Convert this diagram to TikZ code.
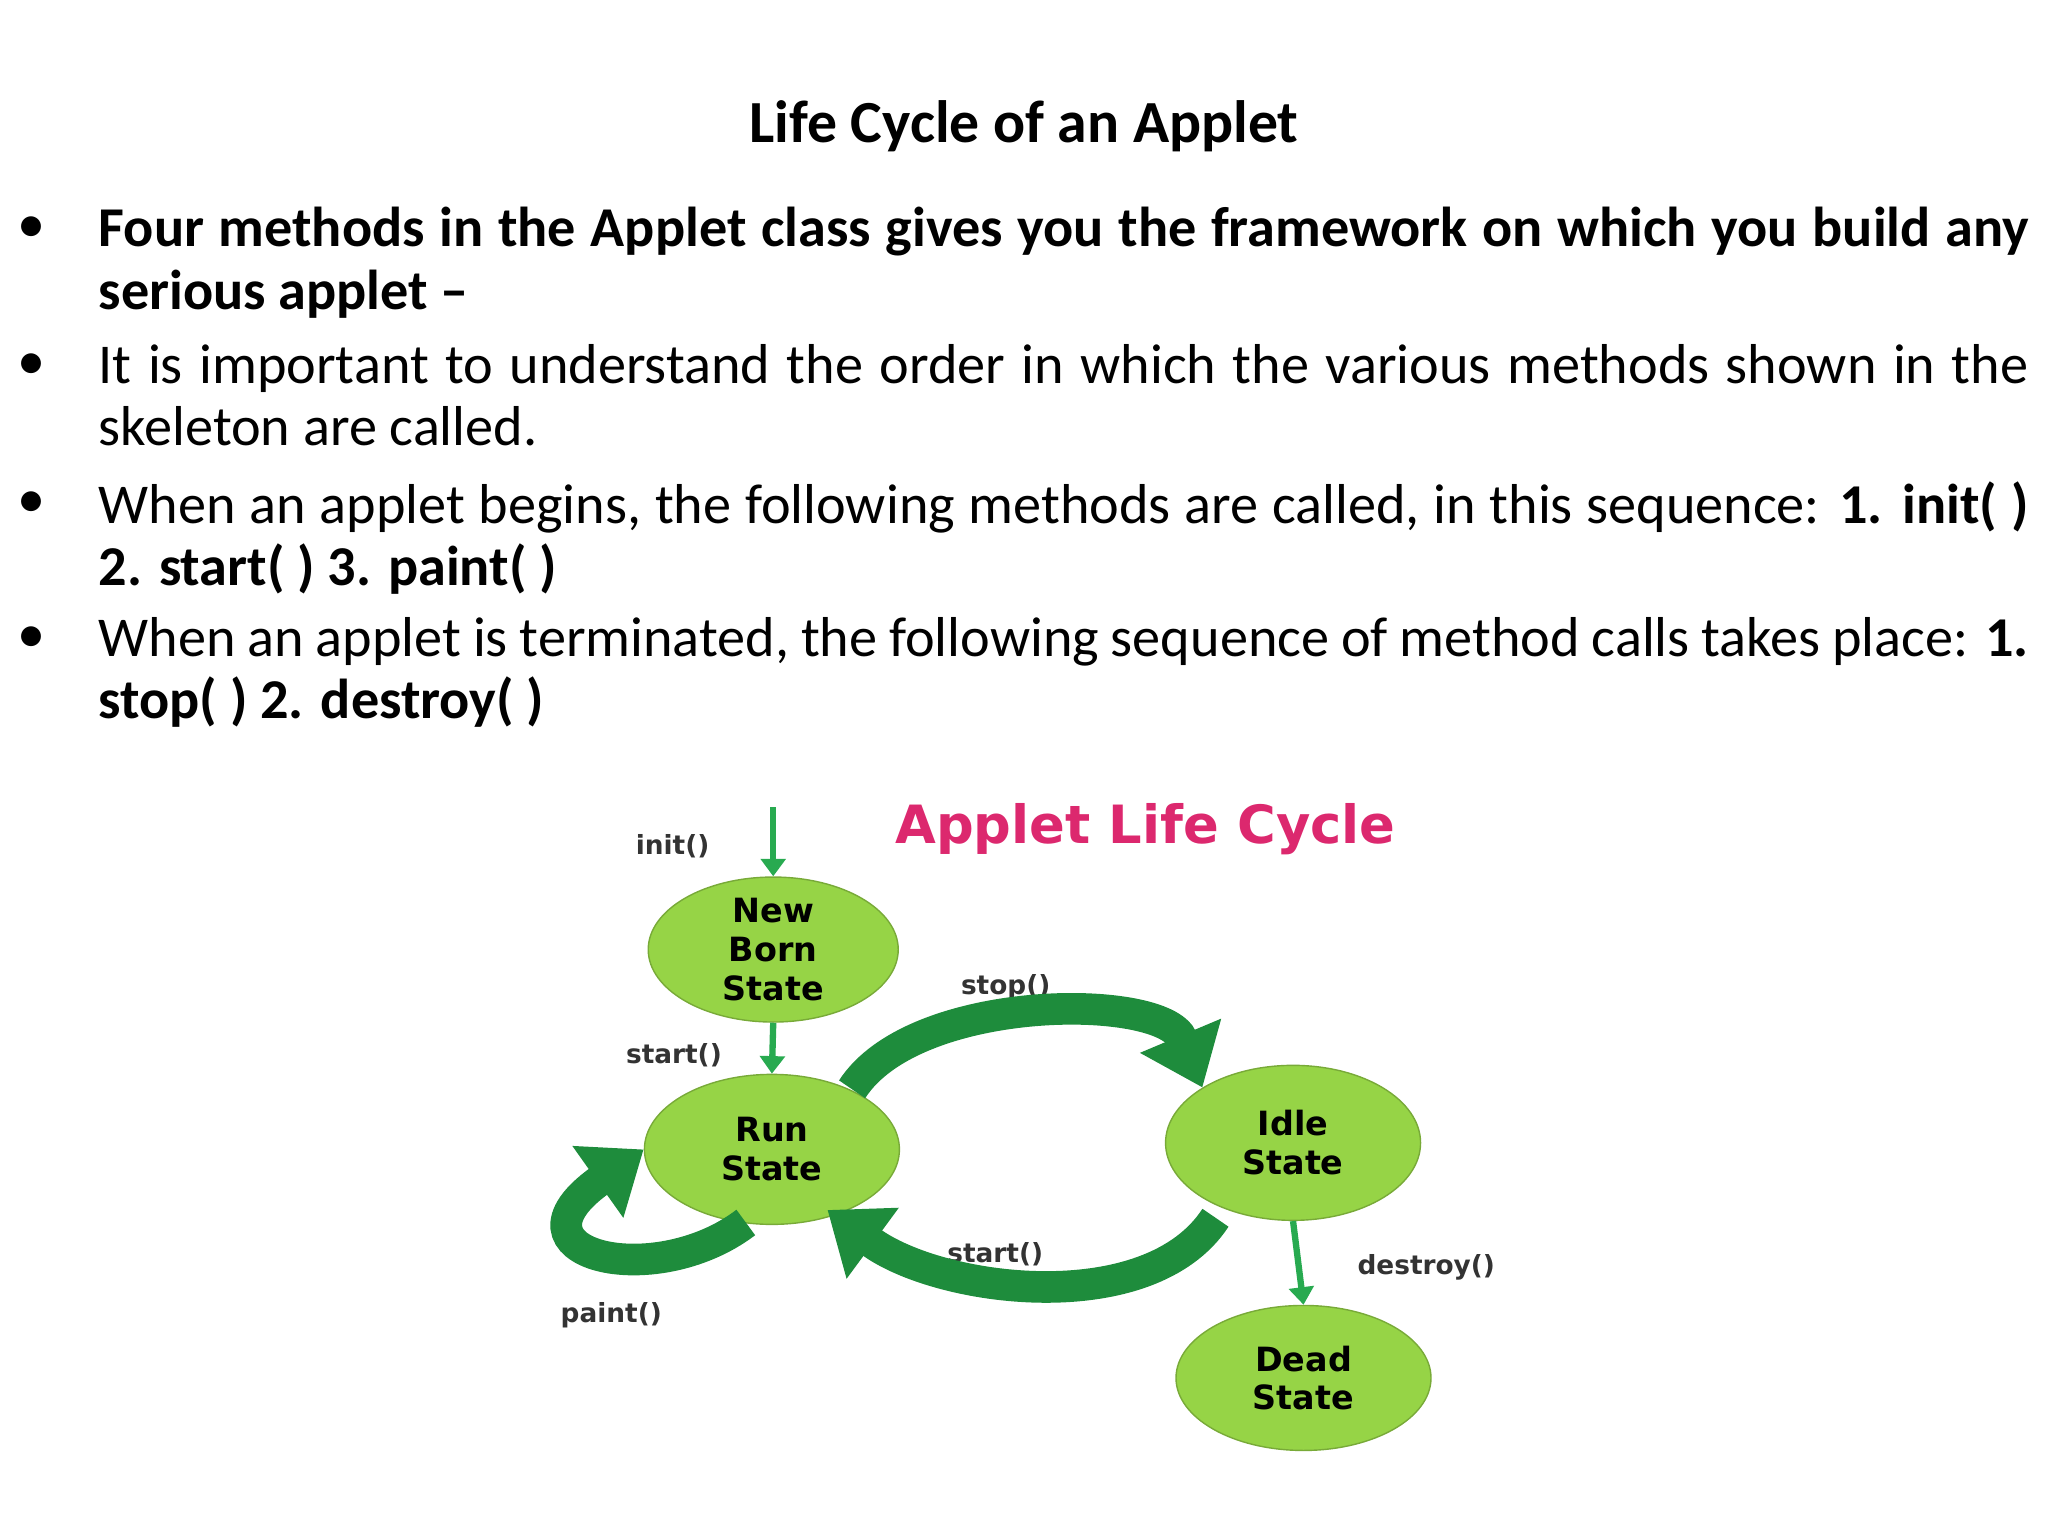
\documentclass[tikz,border=0pt]{standalone}
\usepackage{fontspec}
\setmainfont{Carlito}
\newfontfamily\djsans{DejaVu Sans}
\usetikzlibrary{arrows.meta,shapes.geometric}
\definecolor{lgreen}{RGB}{150,212,70}
\definecolor{dgreen}{RGB}{30,140,60}
\definecolor{agreen}{RGB}{40,170,80}
\definecolor{pinkc}{RGB}{220,40,110}
\tikzset{
  st/.style={ellipse,fill=lgreen,draw=lgreen!80!black,line width=0.4pt,minimum width=#1,inner sep=0pt,align=center,font=\djsans\bfseries\fontsize{9.5}{11}\selectfont},
  lab/.style={font=\djsans\bfseries\fontsize{7.5}{9}\selectfont,text=black!80},
  small/.style={-{Triangle[length=5pt,width=7pt]},agreen,line width=1.8pt},
  big/.style={-{Triangle[length=16pt,width=24pt]},dgreen,line width=9pt},
  para/.style={anchor=north west,text width=19.3cm,align=justify,font=\fontsize{16}{17.8}\selectfont,inner sep=0pt}
}
\begin{document}
\begin{tikzpicture}[x=0.013061cm,y=-0.013061cm]
\useasboundingbox (0,0) rectangle (1568,1176);
\node[font=\bfseries\fontsize{17}{20}\selectfont] (title) at (784,97) {Life Cycle of an Applet};
\foreach \yy in {176,281,386,490} \node (b\yy) at (24,\yy) {\fontsize{16}{18}\selectfont\textbullet};
\node[para] (p1) at (75,158) {\textbf{Four methods in the Applet class gives you the framework on which you build any serious applet –}};
\node[para] (p2) at (75,263) {It is important to understand the order in which the various methods shown in the skeleton are called.};
\node[para] (p3) at (75,368) {When an applet begins, the following methods are called, in this sequence: \textbf{1. init( ) 2. start( ) 3. paint( )}};
\node[para] (p4) at (75,472) {When an applet is terminated, the following sequence of method calls takes place: \textbf{1. stop( ) 2. destroy( )}};
% diagram
\node[font=\djsans\bfseries\fontsize{15}{17}\selectfont,text=pinkc] (dt) at (877,635) {Applet Life Cycle};
\node[st=2.5cm,minimum height=1.45cm] (nb) at (592,727) {New\\Born\\State};
\node[st=2.55cm,minimum height=1.5cm] (run) at (591,880) {Run\\State};
\node[st=2.55cm,minimum height=1.55cm] (idle) at (990,875) {Idle\\State};
\node[st=2.55cm,minimum height=1.45cm] (dead) at (998,1055) {Dead\\State};
\coordinate (top) at (592,618);
\draw[small] (top) -- (nb.north);
\draw[small] (nb.south) -- (run.north);
\draw[small] (idle.south) -- (dead.north);
\node[lab] (l1) at (515,648) {init()};
\node[lab] (l2) at (516,808) {start()};
\node[lab] (l3) at (770,756) {stop()};
\node[lab] (l4) at (762,960) {start()};
\node[lab] (l5) at (1092,970) {destroy()};
\node[lab] (l6) at (468,1007) {paint()};
\draw[big] (run.north east) ++(-8,-5) .. controls (700,760) and (890,760) .. (idle.north west);
\draw[big] (idle.south west) ++(10,15) .. controls (880,1010) and (720,990) .. ([xshift=-10pt,yshift=-2pt]run.south east);
\draw[big] (run.south) ++(-20,-2) .. controls (500,990) and (380,960) .. (run.west);
\end{tikzpicture}
\end{document}
